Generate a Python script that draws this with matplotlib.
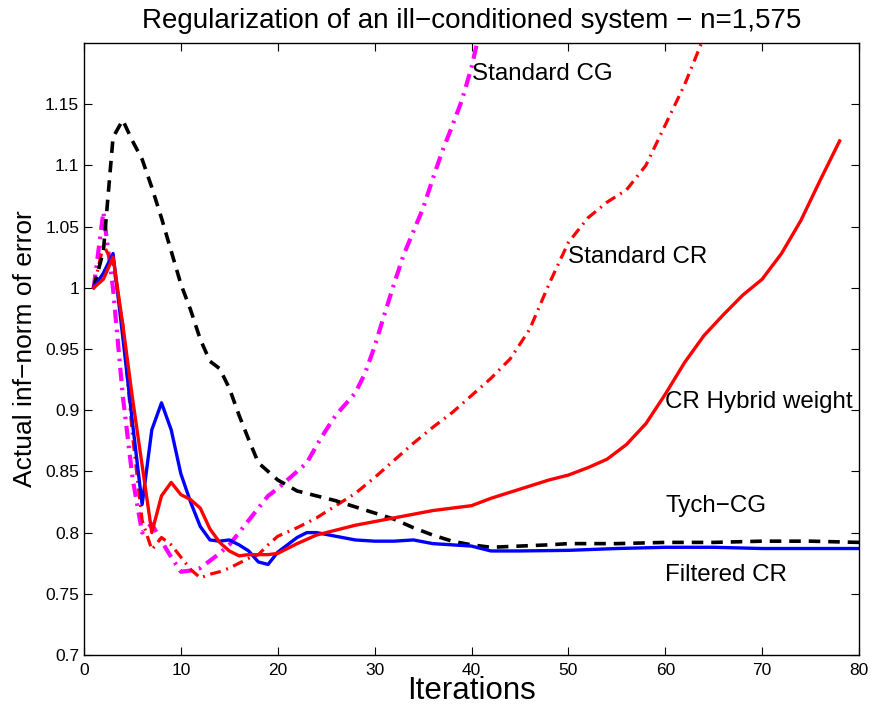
import matplotlib
matplotlib.use("Agg")
import matplotlib.pyplot as plt

plt.rcParams['font.family'] = ['Liberation Sans', 'DejaVu Sans']

# Tych-CG (black dashed)
tych_x = [1, 2, 3, 4, 5, 6, 7, 8, 9, 10, 11, 12, 13, 14, 15, 16, 17, 18, 19, 20,
          22, 24, 26, 28, 30, 32, 34, 36, 38, 40, 42, 45, 48, 50, 55, 60, 65, 70, 75, 80]
tych_y = [1.0, 1.03, 1.123, 1.137, 1.12, 1.105, 1.082, 1.057, 1.03, 1.003, 0.982, 0.958, 0.94, 0.934,
          0.918, 0.896, 0.876, 0.857, 0.85, 0.843, 0.834, 0.830, 0.826, 0.821, 0.816, 0.811, 0.804,
          0.798, 0.793, 0.790, 0.788, 0.789, 0.790, 0.791, 0.791, 0.792, 0.792, 0.793, 0.793, 0.792]

# Filtered CR (blue solid)
filt_x = [1, 2, 3, 4, 5, 6, 7, 8, 9, 10, 11, 12, 13, 14, 15, 16, 17, 18, 19, 20, 21, 22, 23, 24,
          26, 28, 30, 32, 34, 36, 38, 40, 42, 45, 50, 55, 60, 65, 70, 75, 80]
filt_y = [1.0, 1.012, 1.028, 0.96, 0.89, 0.823, 0.884, 0.906, 0.884, 0.848, 0.825, 0.805, 0.794,
          0.793, 0.794, 0.790, 0.785, 0.776, 0.774, 0.784, 0.790, 0.796, 0.800, 0.800, 0.797, 0.794,
          0.793, 0.793, 0.794, 0.791, 0.790, 0.789, 0.785, 0.785, 0.7855, 0.787, 0.788, 0.788,
          0.787, 0.787, 0.787]

# CR Hybrid weight (red solid)
hyb_x = [1, 2, 3, 4, 5, 6, 7, 8, 9, 10, 11, 12, 13, 14, 15, 16, 17, 18, 19, 20, 22, 24, 26, 28, 30,
         32, 34, 36, 38, 40, 42, 44, 46, 48, 50, 52, 54, 56, 58, 60, 62, 64, 66, 68, 70, 72, 74, 76, 78]
hyb_y = [1.0, 1.007, 1.025, 0.97, 0.91, 0.855, 0.80, 0.83, 0.841, 0.831, 0.827, 0.82, 0.803, 0.792,
         0.785, 0.781, 0.782, 0.782, 0.782, 0.783, 0.791, 0.798, 0.802, 0.806, 0.809, 0.812, 0.815,
         0.818, 0.820, 0.822, 0.828, 0.833, 0.838, 0.843, 0.847, 0.853, 0.860, 0.872, 0.889, 0.913,
         0.939, 0.961, 0.978, 0.994, 1.007, 1.028, 1.055, 1.088, 1.12]

# Standard CR (red dash-dot)
scr_x = [1, 2, 3, 4, 5, 6, 7, 8, 9, 10, 11, 12, 13, 14, 15, 16, 17, 18, 19, 20, 22, 24, 26, 28, 30,
         32, 34, 36, 38, 40, 42, 44, 46, 48, 50, 52, 54, 56, 58, 60, 62, 64, 66]
scr_y = [1.0, 1.035, 1.02, 0.97, 0.88, 0.81, 0.786, 0.796, 0.79, 0.78, 0.77, 0.763, 0.766, 0.768,
         0.771, 0.775, 0.779, 0.782, 0.79, 0.797, 0.804, 0.812, 0.822, 0.832, 0.845, 0.859, 0.873,
         0.886, 0.898, 0.912, 0.926, 0.942, 0.966, 1.003, 1.037, 1.057, 1.07, 1.08, 1.10, 1.133,
         1.166, 1.205, 1.25]

# Standard CG (magenta dash-dot)
scg_x = [1, 2, 3, 4, 5, 6, 7, 8, 9, 10, 11, 12, 13, 14, 15, 16, 17, 18, 19, 20, 21, 22, 23, 24, 25,
         26, 27, 28, 29, 30, 31, 32, 33, 34, 35, 36, 37, 38, 39, 40, 41]
scg_y = [1.0, 1.062, 0.999, 0.912, 0.845, 0.80, 0.807, 0.793, 0.78, 0.768, 0.769, 0.771, 0.777,
         0.783, 0.79, 0.80, 0.81, 0.82, 0.83, 0.836, 0.843, 0.85, 0.857, 0.871, 0.884, 0.896, 0.905,
         0.914, 0.93, 0.952, 0.978, 1.003, 1.027, 1.046, 1.065, 1.089, 1.112, 1.132, 1.153, 1.18, 1.215]

labels = ["Standard CG", "Standard CR", "CR Hybrid weight", "Tych\u2212CG", "Filtered CR"]
label_x = [40.0, 50.0, 60.0, 60.0, 60.0]
label_y = [1.1746, 1.0254, 0.9068, 0.8216, 0.7656]

x_ticks = [0, 10, 20, 30, 40, 50, 60, 70, 80]
y_ticks = [0.7, 0.75, 0.8, 0.85, 0.9, 0.95, 1.0, 1.05, 1.1, 1.15]
y_tick_labels = ["0.7", "0.75", "0.8", "0.85", "0.9", "0.95", "1", "1.05", "1.1", "1.15"]

fig = plt.figure(figsize=(8.72, 7.09), dpi=100)
ax = fig.add_axes([84/872, 54/709, 775/872, 612/709])

ax.plot(scg_x, scg_y, color='#ff00ff', linestyle=(0, (3.2, 1.6, 0.6, 1.6)), linewidth=3.0)
ax.plot(scr_x, scr_y, color='#ff0000', linestyle=(0, (3.4, 1.8, 0.6, 1.8)), linewidth=2.3)
ax.plot(tych_x, tych_y, color='black', linestyle=(0, (3.2, 2.2)), linewidth=2.6)
ax.plot(filt_x, filt_y, color='#0000ff', linestyle='-', linewidth=2.4)
ax.plot(hyb_x, hyb_y, color='#ff0000', linestyle='-', linewidth=2.4)

for t, lx, ly in zip(labels, label_x, label_y):
    ax.text(lx, ly, t, fontsize=17.4, ha='left', va='center', color='black')

ax.set_xlim(0, 80)
ax.set_ylim(0.7, 1.2)
ax.set_xticks(x_ticks)
ax.set_yticks(y_ticks)
ax.set_yticklabels(y_tick_labels)
ax.tick_params(direction='in', top=True, right=True, labelsize=12.5, length=6, width=0.8)
ax.tick_params(axis='x', pad=5.5)
for s in ax.spines.values():
    s.set_linewidth(1.0)

ax.set_title("Regularization of an ill\u2212conditioned system \u2212 n=1,575", fontsize=20, pad=10.5)
ax.set_xlabel("Iterations", fontsize=22.5, labelpad=-1)
ax.set_ylabel("Actual inf\u2212norm of error", fontsize=19, labelpad=6)

fig.savefig("out.png", dpi=100)
